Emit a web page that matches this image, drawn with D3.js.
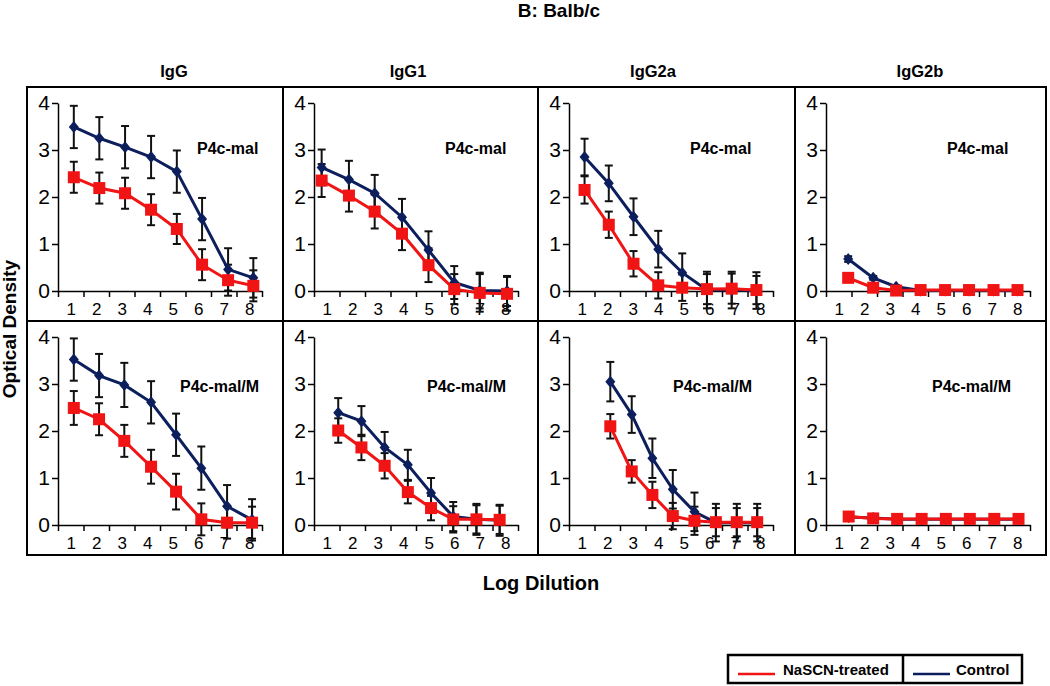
<!DOCTYPE html>
<html><head><meta charset="utf-8">
<script src="https://cdn.jsdelivr.net/npm/d3@7"></script>
<style>body{margin:0;background:#fff}svg{display:block}text{font-family:Arial,"Liberation Sans",sans-serif}</style>
</head><body><svg id="c" width="1050" height="686"></svg>
<script>
// ---------- data ----------
const dilutions = [1,2,3,4,5,6,7,8];
const isotypes = ["IgG","IgG1","IgG2a","IgG2b"];
const antigens = ["P4c-mal","P4c-mal/M"];
const seriesNames = ["NaSCN-treated","Control"];
const yTicks = [0,1,2,3,4];

// x positions of points (log dilution, as plotted)
const IgG_mal_x    = [1.12,2.12,3.13,4.15,5.16,6.15,7.17,8.16];
const IgG1_mal_x   = [0.80,1.87,2.88,3.95,4.99,6.00,7.00,8.07];
const IgG2a_mal_x  = [1.11,2.06,3.03,4.00,4.94,5.91,6.88,7.85];
const IgG2b_mal_x  = [1.37,2.35,3.25,4.21,5.17,6.11,7.07,8.01];
const IgG_malM_x   = [1.12,2.11,3.10,4.15,5.13,6.12,7.13,8.11];
const IgG1_malM_x  = [1.45,2.36,3.27,4.18,5.09,5.96,6.87,7.78];
const IgG2a_malM_x = [2.12,2.96,3.77,4.57,5.42,6.26,7.08,7.88];
const IgG2b_malM_x = [1.39,2.35,3.29,4.25,5.20,6.14,7.10,8.05];

// Control
const IgG_mal_ctrl      = [3.49,3.25,3.06,2.85,2.54,1.53,0.46,0.28];
const IgG_mal_ctrlErr   = [0.45,0.45,0.45,0.45,0.45,0.45,0.45,0.42];
const IgG1_mal_ctrl     = [2.63,2.37,2.08,1.57,0.87,0.18,0.01,0.00];
const IgG1_mal_ctrlErr  = [0.38,0.40,0.39,0.39,0.40,0.35,0.38,0.32];
const IgG2a_mal_ctrl    = [2.85,2.29,1.58,0.89,0.39,0.02,0.02,0.01];
const IgG2a_mal_ctrlErr = [0.39,0.38,0.39,0.39,0.41,0.39,0.39,0.39];
const IgG2b_mal_ctrl    = [0.68,0.28,0.09,0.01,0.01,0.01,0.01,0.01];
const IgG2b_mal_ctrlErr = [0.06,0.04,0.03,0.02,0.02,0.02,0.02,0.02];
const IgG_malM_ctrl      = [3.52,3.18,2.98,2.61,1.92,1.21,0.40,0.11];
const IgG_malM_ctrlErr   = [0.45,0.46,0.47,0.45,0.45,0.46,0.45,0.44];
const IgG1_malM_ctrl     = [2.39,2.21,1.65,1.28,0.68,0.18,0.12,0.10];
const IgG1_malM_ctrlErr  = [0.31,0.32,0.33,0.32,0.32,0.31,0.33,0.33];
const IgG2a_malM_ctrl    = [3.05,2.35,1.42,0.76,0.28,0.05,0.05,0.05];
const IgG2a_malM_ctrlErr = [0.42,0.39,0.42,0.41,0.41,0.40,0.40,0.40];
const IgG2b_malM_ctrl    = [0.17,0.15,0.12,0.12,0.12,0.12,0.12,0.12];
const IgG2b_malM_ctrlErr = [0.02,0.02,0.02,0.02,0.02,0.02,0.02,0.02];

// NaSCN-treated
const IgG_mal_nascn      = [2.42,2.19,2.08,1.73,1.32,0.56,0.23,0.11];
const IgG_mal_nascnErr   = [0.33,0.33,0.33,0.33,0.32,0.33,0.33,0.33];
const IgG1_mal_nascn     = [2.35,2.03,1.69,1.22,0.55,0.04,-0.04,-0.06];
const IgG1_mal_nascnErr  = [0.35,0.34,0.36,0.35,0.36,0.32,0.40,0.36];
const IgG2a_mal_nascn    = [2.15,1.41,0.58,0.12,0.07,0.04,0.05,0.02];
const IgG2a_mal_nascnErr = [0.29,0.28,0.27,0.28,0.28,0.32,0.32,0.30];
const IgG2b_mal_nascn    = [0.28,0.07,0.01,0.02,0.02,0.02,0.02,0.02];
const IgG2b_mal_nascnErr = [0.03,0.02,0.02,0.02,0.02,0.02,0.02,0.02];
const IgG_malM_nascn      = [2.49,2.25,1.79,1.24,0.71,0.12,0.05,0.05];
const IgG_malM_nascnErr   = [0.36,0.34,0.34,0.36,0.38,0.34,0.34,0.34];
const IgG1_malM_nascn     = [2.01,1.65,1.26,0.70,0.36,0.12,0.12,0.11];
const IgG1_malM_nascnErr  = [0.26,0.27,0.27,0.24,0.26,0.28,0.30,0.30];
const IgG2a_malM_nascn    = [2.10,1.14,0.64,0.19,0.09,0.06,0.06,0.06];
const IgG2a_malM_nascnErr = [0.26,0.24,0.28,0.28,0.30,0.30,0.30,0.30];
const IgG2b_malM_nascn    = [0.18,0.14,0.13,0.13,0.13,0.13,0.13,0.13];
const IgG2b_malM_nascnErr = [0.02,0.02,0.02,0.02,0.02,0.02,0.02,0.02];

// ---------- assemble ----------
const panelData = [
  [IgG_mal_x, IgG_mal_ctrl, IgG_mal_ctrlErr, IgG_mal_nascn, IgG_mal_nascnErr],
  [IgG1_mal_x, IgG1_mal_ctrl, IgG1_mal_ctrlErr, IgG1_mal_nascn, IgG1_mal_nascnErr],
  [IgG2a_mal_x, IgG2a_mal_ctrl, IgG2a_mal_ctrlErr, IgG2a_mal_nascn, IgG2a_mal_nascnErr],
  [IgG2b_mal_x, IgG2b_mal_ctrl, IgG2b_mal_ctrlErr, IgG2b_mal_nascn, IgG2b_mal_nascnErr],
  [IgG_malM_x, IgG_malM_ctrl, IgG_malM_ctrlErr, IgG_malM_nascn, IgG_malM_nascnErr],
  [IgG1_malM_x, IgG1_malM_ctrl, IgG1_malM_ctrlErr, IgG1_malM_nascn, IgG1_malM_nascnErr],
  [IgG2a_malM_x, IgG2a_malM_ctrl, IgG2a_malM_ctrlErr, IgG2a_malM_nascn, IgG2a_malM_nascnErr],
  [IgG2b_malM_x, IgG2b_malM_ctrl, IgG2b_malM_ctrlErr, IgG2b_malM_nascn, IgG2b_malM_nascnErr]
];

// ---------- layout ----------
const RED = "#f01414", NAVY = "#0c1e5c";
const FONT = "Arial, 'Liberation Sans', sans-serif";
const colLeft = [27, 283, 538, 795, 1046];
const rowTop = [87, 321, 555];
const headerX = [174, 408, 653, 920];
const agLabelX = [[170,162,152,152],[153,144,135,137]];
const agLabelY = [67, 71];

const svg = d3.select("#c");

// title
svg.append("text").attr("x", 559).attr("y", 17).attr("text-anchor","middle")
  .attr("font-size", 19).attr("font-weight","bold").text("B: Balb/c");

// column headers
isotypes.forEach((t,i)=>{
  svg.append("text").attr("x", headerX[i]).attr("y", 77).attr("text-anchor","middle")
    .attr("font-size", 16.5).attr("font-weight","bold").text(t);
});

// axis titles
svg.append("text").attr("transform","translate(16,329) rotate(-90)").attr("text-anchor","middle")
  .attr("font-size", 19).attr("font-weight","bold").text("Optical Density");
svg.append("text").attr("x", 541).attr("y", 590).attr("text-anchor","middle")
  .attr("font-size", 20).attr("font-weight","bold").text("Log Dilution");

const diamond = "M0,-6L5,0L0,6L-5,0Z";

panelData.forEach((pd, k)=>{
  const r = Math.floor(k/4), c = k%4;
  const L = colLeft[c], T = rowTop[r];
  const g = svg.append("g");
  // frame
  g.append("rect").attr("x", L).attr("y", T).attr("width", colLeft[c+1]-L).attr("height", rowTop[r+1]-T)
    .attr("fill","none").attr("stroke","#000").attr("stroke-width",2);

  const x = d3.scaleLinear().domain([0.5, 8.5]).range([L+31, L+235]);
  const y = d3.scaleLinear().domain([0, 4]).range([T+204, T+16]);

  // y axis
  const ya = g.append("g").attr("transform",`translate(${x(0.5)},0)`)
    .call(d3.axisLeft(y).tickValues(yTicks).tickSize(6).tickSizeOuter(0).tickPadding(2).tickFormat(d3.format("d")));
  ya.selectAll("text").attr("font-size", 21).attr("font-family", FONT).attr("fill","#000");
  // x axis ticks at band boundaries
  const xa = g.append("g").attr("transform",`translate(0,${y(0)})`)
    .call(d3.axisBottom(x).tickValues(d3.range(0.5, 9, 1)).tickSize(6).tickSizeOuter(0).tickFormat(""));
  // x labels
  const xl = g.append("g").attr("transform",`translate(0,${y(0)})`)
    .call(d3.axisBottom(x).tickValues(dilutions).tickSize(0).tickPadding(12).tickFormat(d3.format("d")));
  xl.select(".domain").remove();
  xl.selectAll("text").attr("font-size", 17).attr("font-family", FONT).attr("fill","#000");
  [ya, xa].forEach(a=>{ a.selectAll("path,line").attr("stroke","#000").attr("stroke-width",1.5); });

  // antigen label
  g.append("text").attr("x", L + agLabelX[r][c]).attr("y", T + agLabelY[r])
    .attr("font-size", 16).attr("font-weight","bold").text(antigens[r]);

  const [xs, ctrl, ctrlErr, nas, nasErr] = pd;
  const series = [
    {vals: ctrl, err: ctrlErr, color: NAVY, shape: "diamond"},
    {vals: nas, err: nasErr, color: RED, shape: "square"}
  ];
  // error bars
  series.forEach(s=>{
    const eb = g.append("g").attr("stroke","#111").attr("stroke-width",2);
    s.vals.forEach((v,i)=>{
      const cx = x(xs[i]), y1 = y(v + s.err[i]), y2 = y(v - s.err[i]);
      eb.append("line").attr("x1",cx).attr("x2",cx).attr("y1",y1).attr("y2",y2);
      eb.append("line").attr("x1",cx-4).attr("x2",cx+4).attr("y1",y1).attr("y2",y1);
      eb.append("line").attr("x1",cx-4).attr("x2",cx+4).attr("y1",y2).attr("y2",y2);
    });
  });
  // lines + markers
  series.forEach(s=>{
    const line = d3.line().x((v,i)=>x(xs[i])).y(v=>y(v));
    g.append("path").attr("d", line(s.vals)).attr("fill","none").attr("stroke", s.color).attr("stroke-width",3);
    s.vals.forEach((v,i)=>{
      if (s.shape === "square") {
        g.append("rect").attr("x", x(xs[i])-6).attr("y", y(v)-6).attr("width",12).attr("height",12).attr("fill", s.color);
      } else {
        g.append("path").attr("d", diamond).attr("transform",`translate(${x(xs[i])},${y(v)})`).attr("fill", s.color);
      }
    });
  });
});

// legend
const lg = svg.append("g");
lg.append("rect").attr("x",728).attr("y",655).attr("width",294).attr("height",28)
  .attr("fill","none").attr("stroke","#000").attr("stroke-width",2.5);
lg.append("line").attr("x1",903).attr("x2",903).attr("y1",655).attr("y2",683).attr("stroke","#000").attr("stroke-width",2.5);
const legItems = [
  {name: seriesNames[0], color: RED, x1: 738, tx: 783},
  {name: seriesNames[1], color: NAVY, x1: 913, tx: 956}
];
legItems.forEach(d=>{
  lg.append("line").attr("x1", d.x1).attr("x2", d.x1+37).attr("y1",674).attr("y2",674).attr("stroke", d.color).attr("stroke-width",2.5);
  lg.append("text").attr("x", d.tx).attr("y", 675).attr("font-size",15).attr("font-weight","bold").text(d.name);
});
</script></body></html>
